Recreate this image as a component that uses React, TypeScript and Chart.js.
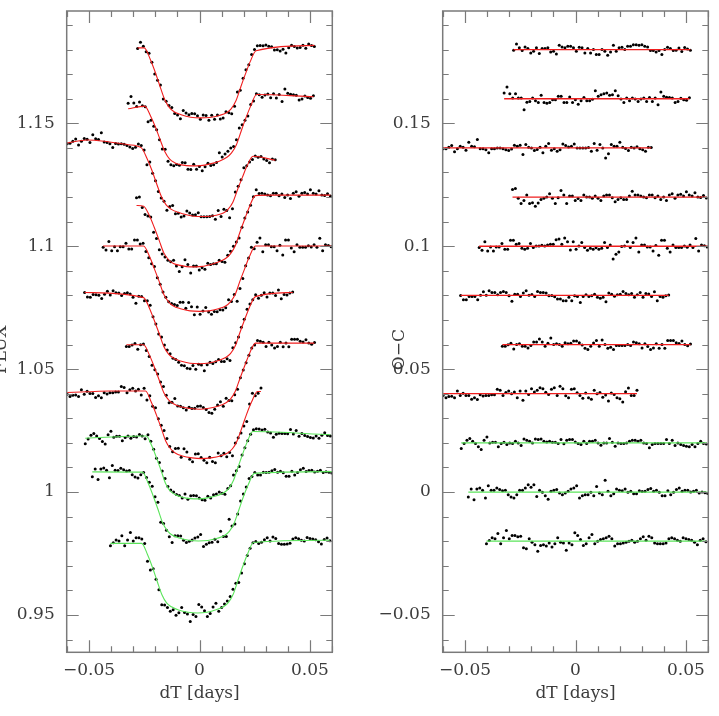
import React, { useEffect, useRef } from "react";
import { Chart, registerables } from "chart.js";

Chart.register(...registerables);

// ---------------- data ----------------
// sampling cadence (days) and first time stamp of every light curve
const CADENCE = 0.00129;
const START_T = [-0.028, -0.0323, -0.0599, -0.0285, -0.0436, -0.052, -0.0331, -0.0599, -0.0517, -0.0485, -0.0403];
// reference level of every curve in the FLUX panel and offset in the O-C panel
const LEFT_BASE = [1.18, 1.16, 1.14, 1.12, 1.1, 1.08, 1.06, 1.04, 1.02, 1.0, 0.98];
const RIGHT_OFFSET = [0.18, 0.16, 0.14, 0.12, 0.1, 0.08, 0.06, 0.04, 0.02, 0, -0.02];
const FIT_KIND = ["red", "red", "red", "red", "red", "red", "red", "red", "green", "green", "green"];

// observed flux, units of 1e-4 relative to LEFT_BASE
const FLUX_1 = [4,30,14,-9,-15,-51,-99,-125,-144,-201,-210,-227,-236,-260,-266,-281,-248,-258,-265,-260,-261,-269,-283,-266,-268,-287,-267,-283,-266,-282,-278,-253,-257,-261,-230,-173,-165,-117,-82,-62,-20,0,16,17,16,19,14,12,-2,-1,-6,1,-14,7,18,13,6,8,18,5,23,17,13];
const FLUX_2 = [-18,9,-17,-32,-13,-28,-33,-94,-87,-112,-126,-167,-204,-205,-254,-268,-273,-267,-271,-259,-260,-287,-288,-266,-287,-276,-293,-277,-262,-272,-268,-259,-220,-237,-225,-214,-200,-194,-167,-119,-106,-87,-70,-23,-9,20,16,6,15,19,4,20,3,17,-11,40,22,18,16,14,-5,-1,11,5,2,12];
const FLUX_3 = [17,19,27,36,12,27,38,35,22,54,37,34,62,24,22,17,2,18,16,17,15,10,4,-2,3,16,10,-8,-69,-57,-103,-134,-177,-204,-217,-254,-238,-234,-268,-266,-281,-277,-257,-265,-273,-272,-264,-280,-280,-280,-279,-276,-290,-255,-279,-250,-255,-284,-247,-179,-156,-130,-81,-73,-57,-47,-33,-38,-35,-45,-51,-60,-45,-48];
const FLUX_4 = [-3,0,-42,-71,-77,-81,-143,-169,-214,-232,-244,-257,-263,-257,-280,-303,-283,-255,-274,-309,-280,-280,-297,-288,-294,-269,-274,-271,-271,-257,-262,-265,-237,-220,-200,-183,-166,-123,-85,-61,-33,1,30,15,16,12,8,5,16,16,5,12,-2,8,-6,16,22,3,16,19,12,30,16,12,26,8,6,14,4];
const FLUX_5 = [-4,-15,19,-18,-2,-18,-2,-2,12,-11,-11,25,25,9,12,-21,-47,-71,-82,-128,-155,-186,-208,-226,-233,-237,-241,-228,-228,-252,-229,-246,-279,-247,-277,-263,-249,-268,-277,-266,-267,-258,-259,-250,-218,-225,-196,-224,-172,-131,-79,-48,-4,-10,16,34,-22,6,6,-2,-2,-18,4,-36,25,25,-7,-22,6,-4,-4,-4,2,-3,6,-4,32,-18,6,3,-2];
const FLUX_6 = [12,-7,-8,4,3,1,-13,5,17,2,19,11,10,0,8,11,6,-8,-32,-3,-4,-22,-22,-40,-87,-116,-157,-169,-202,-222,-237,-256,-261,-272,-284,-286,-296,-298,-285,-300,-280,-283,-307,-282,-272,-277,-270,-261,-269,-269,-258,-265,-213,-193,-169,-130,-97,-56,-35,-18,3,-12,1,11,-7,10,10,0,22,-14,4,2,10,14];
const FLUX_7 = [-8,-8,-2,4,-19,-1,2,-24,-49,-84,-103,-120,-152,-171,-206,-237,-235,-219,-250,-251,-257,-266,-255,-260,-259,-251,-250,-256,-264,-276,-279,-263,-246,-233,-251,-218,-228,-229,-204,-182,-135,-104,-74,-44,-14,-2,16,13,9,-8,9,-2,-14,-8,9,-9,6,-9,22,22,22,13,10,20,6,1,8];
const FLUX_8 = [-2,-11,-6,-5,-11,16,-2,10,1,1,-15,-8,-16,4,-1,4,4,7,7,29,25,4,16,22,11,18,-5,22,-26,-8,-51,-57,-102,-128,-150,-182,-215,-236,-223,-222,-258,-224,-237,-267,-277,-245,-244,-260,-271,-281,-258,-276,-281,-241,-252,-242,-256,-239,-252,-201,-179,-160,-131,-113,-42,2,-8,2,23];
const FLUX_9 = [-4,16,31,38,28,18,6,-5,33,47,23,27,27,9,22,28,19,26,24,34,28,17,33,7,-26,-63,-80,-114,-145,-177,-192,-200,-210,-214,-224,-208,-229,-215,-214,-215,-224,-231,-233,-217,-224,-211,-208,-200,-205,-209,-186,-174,-131,-113,-96,-49,-20,9,35,53,57,56,52,55,44,40,23,35,39,38,38,37,54,36,50,27,38,30,26,22,20,28,19,31,41,30,28];
const FLUX_10 = [62,94,51,94,98,89,58,108,89,88,97,91,86,88,70,61,57,70,79,59,40,24,-19,-42,-123,-128,-155,-182,-205,-178,-178,-179,-196,-205,-200,-195,-187,-183,-173,-222,-212,-206,-204,-192,-202,-160,-181,-181,-111,-138,-130,-89,-36,-8,20,55,63,79,69,69,81,79,80,87,92,81,85,78,64,64,85,69,79,91,97,84,88,89,82,85,89,79,83,80,77];
const FLUX_11 = [-19,-6,5,1,22,-19,5,35,1,14,14,9,-9,-82,-117,-112,-155,-198,-259,-260,-270,-285,-279,-301,-291,-270,-290,-296,-327,-298,-306,-258,-268,-283,-306,-294,-268,-252,-285,-270,-256,-243,-225,-195,-171,-168,-129,-92,-58,-29,-6,-1,-9,-4,6,14,1,17,11,-9,-12,-12,-11,-8,9,14,10,4,1,15,11,9,6,-2,-11,7,13,2];

// residuals O-C, units of 1e-4 relative to RIGHT_OFFSET
const OC_1 = [-3,23,7,-4,11,4,-14,-7,7,-16,4,4,7,-10,-7,-18,18,11,7,14,14,7,-7,10,7,-14,4,-14,0,-20,-20,0,-7,-23,-10,18,-7,7,10,0,14,14,20,20,18,20,14,11,-4,-4,-10,-4,-20,0,10,4,-4,-3,6,-8,9,2,-3];
const OC_2 = [23,48,20,3,20,3,3,-45,-14,-11,3,-8,-15,14,-15,-18,-15,-4,-4,10,10,-15,-15,7,-15,-4,-22,-8,5,-8,-8,-2,33,10,16,20,23,14,16,33,12,-1,-15,3,-8,3,-1,-11,-1,3,-11,5,-11,3,-24,27,10,6,5,3,-15,-11,2,-4,-6,4];
const OC_3 = [-3,-3,3,10,-16,-3,7,3,-10,23,7,5,34,-3,-3,-7,-20,-3,-3,0,0,-3,-7,-11,-4,11,7,11,-27,14,3,0,-11,-6,3,-20,7,18,-10,-3,-14,-7,16,10,4,7,16,0,0,0,0,2,-14,18,-10,14,0,-41,-24,14,7,7,23,3,-2,-11,3,0,5,-3,-7,-14,3,2];
const OC_4 = [31,35,-5,-26,-14,8,-26,-23,-37,-24,-10,-5,0,14,-5,-26,-3,27,8,-26,4,4,-14,-6,-14,8,0,0,-5,4,-5,-14,4,8,8,-3,-19,-10,-3,-10,-10,4,24,8,8,4,0,-3,8,8,-3,4,-10,0,-14,8,14,-5,8,11,4,22,8,4,18,0,-2,6,-4];
const OC_5 = [-5,-16,18,-19,-3,-19,-3,-3,11,-12,-12,24,24,8,11,-8,-12,-8,11,-5,1,1,4,1,5,8,8,26,29,8,33,18,-15,18,-12,1,15,-5,-16,-8,-12,-6,-12,-8,15,-5,5,-52,-33,-23,-1,1,18,-5,15,33,-23,5,5,-3,-3,-19,3,-37,24,24,-8,-23,5,-5,-5,-5,1,-4,5,-5,31,-19,5,2,-3];
const OC_6 = [0,-18,-18,-5,-5,-5,-18,1,15,1,19,12,12,3,12,16,12,-1,-24,5,5,-5,10,19,1,4,-5,16,12,12,10,-1,0,-6,-15,-15,-22,-22,-8,-22,-1,-4,-29,-5,3,-5,-1,5,-8,-12,-8,-26,10,5,-3,3,5,16,8,3,8,-8,3,12,-8,8,6,-5,15,-22,-5,-8,-1,2];
const OC_7 = [-7,-7,-1,5,-18,0,3,-7,-7,-14,-4,10,10,23,10,-7,5,27,0,3,0,-7,7,3,5,14,14,7,-2,-15,-20,-7,6,16,-7,19,0,-15,-11,-20,-4,-4,-4,-4,0,-4,10,7,3,-14,3,-8,-20,-14,3,-15,0,-15,16,16,16,7,4,14,0,-5,2];
const OC_8 = [-7,-16,-11,-10,-16,11,-7,2,-7,-7,-23,-16,-24,-4,-9,-7,-7,-4,-4,18,14,-7,5,11,0,7,-16,11,-27,11,-3,20,7,14,24,20,6,-3,18,24,-7,30,20,-8,-16,18,20,4,-7,-18,3,-16,-23,14,0,5,-14,-5,-30,3,-3,-16,-20,-34,8,23,-7,-7,14];
const OC_9 = [-23,-3,11,18,7,-3,-16,-27,11,24,0,3,3,-16,-3,3,-7,0,-3,7,0,-11,16,11,7,0,16,14,16,7,4,7,3,3,-3,14,-4,11,14,14,4,-3,-7,7,-3,7,7,11,0,-10,0,0,18,3,-14,0,-3,-3,0,7,11,11,7,11,0,-3,-20,-7,-3,-3,-3,-3,14,-3,11,-11,0,-7,-11,-14,-16,-7,-16,-3,7,-3,-5];
const OC_10 = [-20,12,-31,12,16,7,-24,26,7,7,16,10,5,7,-11,-20,-24,-11,7,7,16,30,19,30,-18,7,-1,-15,-29,3,7,10,-4,-11,-4,3,12,16,26,-24,-15,-11,-11,-1,-15,23,-4,-11,48,3,-15,-7,12,7,5,12,-1,3,-7,-7,5,2,3,10,14,3,7,-1,-15,-15,5,-11,-1,10,16,3,7,7,0,3,7,-4,0,-3,-6];
const OC_11 = [-10,3,14,10,31,-10,14,44,10,23,23,18,20,-27,-31,10,-4,-14,-41,-18,-14,-20,-7,-24,-10,14,-4,-7,-37,-7,-14,34,23,7,-18,-10,14,27,-10,0,7,10,14,20,10,-20,-10,-10,-7,-4,0,4,-4,0,10,18,4,20,14,-7,-10,-10,-10,-7,10,14,10,4,0,14,10,7,4,-4,-14,4,10,-2];

// fitted transit models (vertices): time (days) and flux (1e-4 relative to LEFT_BASE)
const MODEL_T_1 = [-0.028,-0.025,-0.0223,-0.0201,-0.018,-0.0158,-0.0137,-0.0115,-0.0083,-0.004,0.0003,0.0046,0.0089,0.0122,0.0143,0.0165,0.0186,0.0208,0.0229,0.0256,0.052];
const MODEL_F_1 = [7,7,-39,-90,-146,-202,-235,-253,-265,-275,-278,-276,-268,-257,-241,-208,-154,-99,-50,-5,17];
const MODEL_T_2 = [-0.0323,-0.0248,-0.0221,-0.0199,-0.0178,-0.0156,-0.0135,-0.0113,-0.0081,-0.0038,0.0005,0.0048,0.0092,0.0124,0.0145,0.0167,0.0188,0.021,0.0232,0.0258,0.0516];
const MODEL_F_2 = [-41,-30,-71,-116,-167,-217,-246,-260,-269,-273,-272,-265,-253,-238,-220,-187,-133,-78,-29,17,8];
const MODEL_T_3 = [-0.0599,-0.0508,-0.0431,-0.0323,-0.0264,-0.0237,-0.0215,-0.0194,-0.0172,-0.0151,-0.0129,-0.0097,-0.0054,-0.0011,0.0032,0.0075,0.0108,0.0129,0.0151,0.0172,0.0194,0.0215,0.0242,0.0343];
const MODEL_F_3 = [20,32,27,13,1,-44,-92,-146,-199,-232,-249,-262,-273,-279,-279,-274,-265,-250,-221,-170,-120,-74,-34,-50];
const MODEL_T_4 = [-0.0285,-0.0253,-0.0226,-0.0205,-0.0183,-0.0162,-0.014,-0.0118,-0.0086,-0.0043,0,0.0043,0.0086,0.0118,0.014,0.0162,0.0183,0.0205,0.0226,0.0253,0.0323,0.0592];
const MODEL_F_4 = [-34,-37,-77,-123,-175,-226,-255,-270,-278,-284,-283,-276,-264,-250,-231,-198,-143,-89,-39,6,8,8];
const MODEL_T_5 = [-0.0436,-0.0253,-0.0226,-0.0205,-0.0183,-0.0162,-0.014,-0.0118,-0.0086,-0.0043,0,0.0043,0.0086,0.0118,0.014,0.0162,0.0183,0.0205,0.0226,0.0253,0.0596];
const MODEL_F_5 = [1,1,-42,-90,-142,-195,-226,-243,-254,-263,-265,-263,-254,-243,-226,-195,-142,-90,-42,1,1];
const MODEL_T_6 = [-0.052,-0.0253,-0.0226,-0.0205,-0.0183,-0.0162,-0.014,-0.0118,-0.0086,-0.0043,0,0.0043,0.0086,0.0118,0.014,0.0162,0.0183,0.0205,0.0226,0.0253,0.0422];
const MODEL_F_6 = [12,-9,-53,-101,-154,-207,-239,-255,-267,-276,-278,-275,-265,-253,-237,-205,-151,-97,-49,-5,12];
const MODEL_T_7 = [-0.0331,-0.0253,-0.0226,-0.0205,-0.0183,-0.0162,-0.014,-0.0118,-0.0086,-0.0043,0,0.0043,0.0086,0.0118,0.014,0.0162,0.0183,0.0205,0.0226,0.0253,0.052];
const MODEL_F_7 = [-1,-1,-44,-90,-143,-195,-225,-241,-253,-260,-263,-259,-250,-238,-222,-190,-138,-85,-37,6,6];
const MODEL_T_8 = [-0.0599,-0.0506,-0.0409,-0.0244,-0.0218,-0.0196,-0.0174,-0.0153,-0.0131,-0.011,-0.0078,-0.0034,0.0009,0.0052,0.0095,0.0127,0.0149,0.017,0.0192,0.0213,0.0235,0.0262,0.0278];
const MODEL_F_8 = [5,8,11,11,-35,-84,-138,-192,-224,-241,-253,-261,-264,-261,-253,-241,-224,-192,-138,-84,-35,9,9];
const MODEL_T_9 = [-0.0517,-0.0241,-0.0215,-0.0195,-0.0174,-0.0154,-0.0134,-0.0113,-0.0082,-0.0041,0,0.0041,0.0082,0.0113,0.0134,0.0154,0.0174,0.0195,0.0215,0.0241,0.0592];
const MODEL_F_9 = [19,28,-14,-60,-112,-164,-194,-209,-220,-227,-228,-223,-214,-201,-184,-152,-100,-46,2,46,33];
const MODEL_T_10 = [-0.0485,-0.0258,-0.0232,-0.021,-0.0188,-0.0167,-0.0145,-0.0124,-0.0092,-0.0048,-0.0005,0.0038,0.0081,0.0113,0.0135,0.0156,0.0178,0.0199,0.0221,0.0248,0.0599];
const MODEL_F_10 = [82,81,36,-15,-70,-125,-158,-175,-187,-196,-199,-197,-188,-177,-160,-128,-73,-18,31,76,83];
const MODEL_T_11 = [-0.0403,-0.0262,-0.0235,-0.0213,-0.0192,-0.017,-0.0149,-0.0127,-0.0095,-0.0052,-0.0009,0.0034,0.0078,0.011,0.0131,0.0153,0.0174,0.0196,0.0218,0.0244,0.059];
const MODEL_F_11 = [-9,-9,-55,-106,-162,-218,-251,-267,-280,-289,-292,-289,-278,-266,-249,-215,-159,-102,-51,-5,4];

const FLUX = [FLUX_1, FLUX_2, FLUX_3, FLUX_4, FLUX_5, FLUX_6, FLUX_7, FLUX_8, FLUX_9, FLUX_10, FLUX_11];
const OC = [OC_1, OC_2, OC_3, OC_4, OC_5, OC_6, OC_7, OC_8, OC_9, OC_10, OC_11];
const MODEL_T = [MODEL_T_1, MODEL_T_2, MODEL_T_3, MODEL_T_4, MODEL_T_5, MODEL_T_6, MODEL_T_7, MODEL_T_8, MODEL_T_9, MODEL_T_10, MODEL_T_11];
const MODEL_F = [MODEL_F_1, MODEL_F_2, MODEL_F_3, MODEL_F_4, MODEL_F_5, MODEL_F_6, MODEL_F_7, MODEL_F_8, MODEL_F_9, MODEL_F_10, MODEL_F_11];

// axes
const X_MIN = -0.0601;
const X_MAX = 0.0601;
const LEFT_Y_MIN = 0.9348;
const LEFT_Y_MAX = 1.1957;
const RIGHT_Y_MIN = -0.0652;
const RIGHT_Y_MAX = 0.1957;
const X_TICK_VALUES = [-0.05, 0, 0.05];
const X_TICK_LABELS = ["\u22120.05", "0", "0.05"];
const LEFT_Y_TICK_VALUES = [0.95, 1, 1.05, 1.1, 1.15];
const LEFT_Y_TICK_LABELS = ["0.95", "1", "1.05", "1.1", "1.15"];
const RIGHT_Y_TICK_VALUES = [-0.05, 0, 0.05, 0.1, 0.15];
const RIGHT_Y_TICK_LABELS = ["\u22120.05", "0", "0.05", "0.1", "0.15"];
const X_TITLE = "dT [days]";
const LEFT_Y_TITLE = "FLUX";
const RIGHT_Y_TITLE = "O\u2212C";

// ---------------- styling ----------------
const FONT = "17px 'DejaVu Serif'";
const TEXT_COLOR = "#3c3c3c";
const FRAME_COLOR = "#7a7a7a";
const LINE_COLORS: Record<string, string> = { red: "rgb(240,30,30)", green: "rgb(90,228,90)" };
const UNIT = 1e-4;

function makeAxesPlugin(yTicks: number[], yLabels: string[], yTitle: string, yTitleX: number) {
  return {
    id: "pgAxes",
    afterDraw(chart: any) {
      const { ctx, chartArea: a, scales } = chart;
      const xs = scales.x;
      const ys = scales.y;
      ctx.save();
      ctx.strokeStyle = FRAME_COLOR;
      ctx.lineWidth = 1.5;
      ctx.strokeRect(a.left, a.top, a.right - a.left, a.bottom - a.top);
      ctx.lineWidth = 1.2;
      const isMajor = (v: number) => Math.abs(v / 0.05 - Math.round(v / 0.05)) < 1e-6;
      for (let k = Math.ceil(xs.min / 0.01); k * 0.01 <= xs.max; k++) {
        const v = k * 0.01;
        const px = Math.round(xs.getPixelForValue(v)) + 0.5;
        const len = isMajor(v) ? 12 : 6;
        ctx.beginPath();
        ctx.moveTo(px, a.bottom);
        ctx.lineTo(px, a.bottom - len);
        ctx.moveTo(px, a.top);
        ctx.lineTo(px, a.top + len);
        ctx.stroke();
      }
      for (let k = Math.ceil(ys.min / 0.01); k * 0.01 <= ys.max; k++) {
        const v = k * 0.01;
        const py = Math.round(ys.getPixelForValue(v)) + 0.5;
        const len = isMajor(v) ? 12 : 6;
        ctx.beginPath();
        ctx.moveTo(a.left, py);
        ctx.lineTo(a.left + len, py);
        ctx.moveTo(a.right, py);
        ctx.lineTo(a.right - len, py);
        ctx.stroke();
      }
      ctx.fillStyle = TEXT_COLOR;
      ctx.font = FONT;
      ctx.textAlign = "center";
      ctx.textBaseline = "middle";
      X_TICK_VALUES.forEach((v, i) => {
        ctx.fillText(X_TICK_LABELS[i], xs.getPixelForValue(v), a.bottom + 18);
      });
      ctx.textAlign = "right";
      yTicks.forEach((v, i) => {
        ctx.fillText(yLabels[i], a.left - 12, ys.getPixelForValue(v));
      });
      ctx.textAlign = "center";
      ctx.fillText(X_TITLE, (a.left + a.right) / 2, a.bottom + 41);
      ctx.save();
      ctx.translate(yTitleX, (a.top + a.bottom) / 2 + 18);
      ctx.rotate(-Math.PI / 2);
      ctx.fillText(yTitle, 0, 0);
      ctx.restore();
      ctx.restore();
    },
  };
}

function baseOptions(yMin: number, yMax: number, padding: any) {
  return {
    animation: false,
    responsive: false,
    maintainAspectRatio: false,
    events: [],
    layout: { padding },
    plugins: { legend: { display: false }, tooltip: { enabled: false }, title: { display: false } },
    scales: {
      x: { type: "linear", min: X_MIN, max: X_MAX, display: false },
      y: { type: "linear", min: yMin, max: yMax, display: false },
    },
  };
}

function leftDatasets() {
  const ds: any[] = [];
  FLUX.forEach((arr, k) => {
    ds.push({
      data: arr.map((v, i) => ({ x: START_T[k] + i * CADENCE, y: LEFT_BASE[k] + v * UNIT })),
      showLine: false,
      pointRadius: 1.5,
      pointBackgroundColor: "#000",
      pointBorderWidth: 0,
      order: 2,
    });
    ds.push({
      data: MODEL_T[k].map((t, i) => ({ x: t, y: LEFT_BASE[k] + MODEL_F[k][i] * UNIT })),
      showLine: true,
      pointRadius: 0,
      borderColor: LINE_COLORS[FIT_KIND[k]],
      borderWidth: 1.1,
      cubicInterpolationMode: "monotone",
      fill: false,
      order: 1,
    });
  });
  return ds;
}

function rightDatasets() {
  const ds: any[] = [];
  OC.forEach((arr, k) => {
    ds.push({
      data: arr.map((v, i) => ({ x: START_T[k] + i * CADENCE, y: RIGHT_OFFSET[k] + v * UNIT })),
      showLine: false,
      pointRadius: 1.5,
      pointBackgroundColor: "#000",
      pointBorderWidth: 0,
      order: 2,
    });
    ds.push({
      data: [
        { x: START_T[k], y: RIGHT_OFFSET[k] },
        { x: START_T[k] + (arr.length - 1) * CADENCE, y: RIGHT_OFFSET[k] },
      ],
      showLine: true,
      pointRadius: 0,
      borderColor: LINE_COLORS[FIT_KIND[k]],
      borderWidth: 1.3,
      fill: false,
      order: 1,
    });
  });
  return ds;
}

export default function App() {
  const leftRef = useRef<HTMLCanvasElement | null>(null);
  const rightRef = useRef<HTMLCanvasElement | null>(null);

  useEffect(() => {
    const left = new Chart(leftRef.current as HTMLCanvasElement, {
      type: "scatter",
      data: { datasets: leftDatasets() },
      options: baseOptions(LEFT_Y_MIN, LEFT_Y_MAX, { left: 66.7, right: 27.7, top: 11, bottom: 63.7 }) as any,
      plugins: [makeAxesPlugin(LEFT_Y_TICK_VALUES, LEFT_Y_TICK_LABELS, LEFT_Y_TITLE, 2)],
    } as any);
    const right = new Chart(rightRef.current as HTMLCanvasElement, {
      type: "scatter",
      data: { datasets: rightDatasets() },
      options: baseOptions(RIGHT_Y_MIN, RIGHT_Y_MAX, { left: 82.7, right: 10.7, top: 11, bottom: 63.7 }) as any,
      plugins: [makeAxesPlugin(RIGHT_Y_TICK_VALUES, RIGHT_Y_TICK_LABELS, RIGHT_Y_TITLE, 40)],
    } as any);
    return () => {
      left.destroy();
      right.destroy();
    };
  }, []);

  return (
    <div style={{ position: "fixed", left: 0, top: 0, width: 719, height: 716, background: "#fff" }}>
      <canvas ref={leftRef} width={360} height={716} style={{ position: "absolute", left: 0, top: 0, width: 360, height: 716 }} />
      <canvas ref={rightRef} width={359} height={716} style={{ position: "absolute", left: 360, top: 0, width: 359, height: 716 }} />
    </div>
  );
}
